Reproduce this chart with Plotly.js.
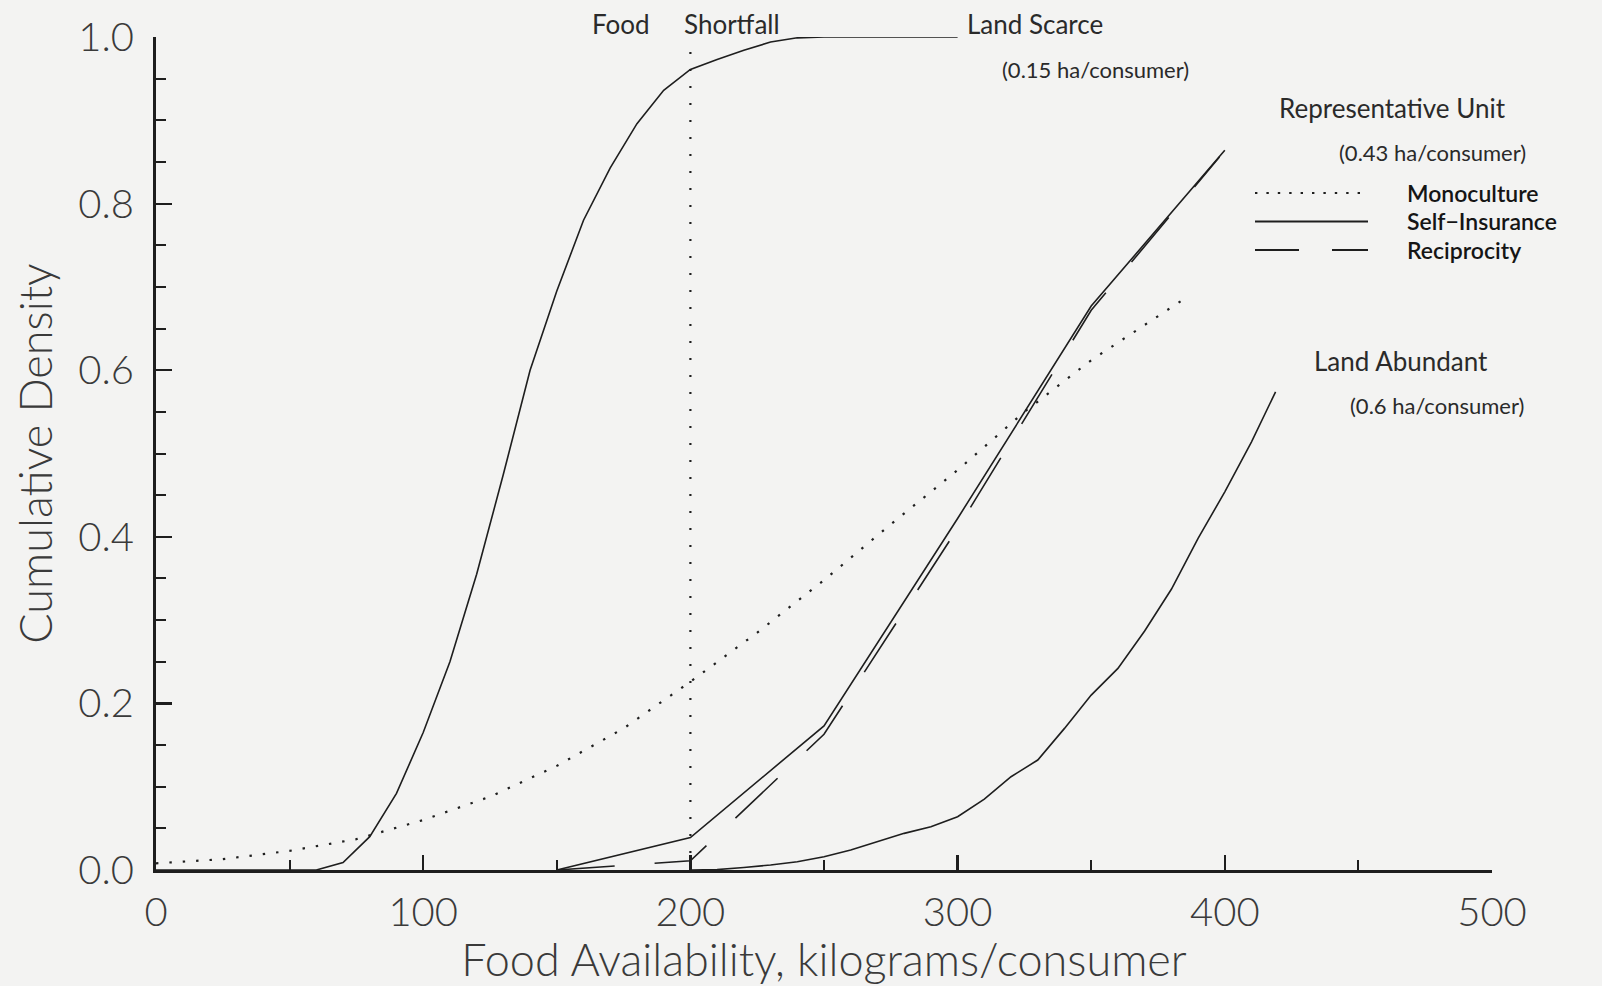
<!DOCTYPE html>
<html><head><meta charset="utf-8">
<script src="https://cdn.plot.ly/plotly-3.0.1.min.js"></script>
<style>html,body{margin:0;padding:0;background:#f3f3f2}</style>
</head><body><div id="chart" style="width:1602px;height:986px"></div>
<script>
// ---- Data ----
const scarceX = [0,60,70,80,90,100,110,120,130,140,150,160,170,180,190,200,210,220,230,240,250,300];
const scarceY = [0,0,0.009,0.04,0.092,0.165,0.25,0.355,0.475,0.6,0.695,0.78,0.843,0.896,0.936,0.961,0.973,0.984,0.994,0.999,1.0,1.0];

const monoX = [0,25,50,75,100,125,150,175,200,225,250,275,300,325,350,375,385];
const monoY = [0.008,0.013,0.023,0.037,0.06,0.088,0.125,0.17,0.226,0.285,0.348,0.415,0.48,0.55,0.612,0.665,0.686];

const selfX = [150,200,250,300,350,400];
const selfY = [0,0.039,0.173,0.422,0.677,0.864];

const recipX = [150,200,250,300,350,398];
const recipY = [0,0.011,0.163,0.41,0.672,0.856];

const abundX = [200,210,220,230,240,250,260,270,280,290,300,310,320,330,340,350,360,370,380,390,400,410,419];
const abundY = [0,0.0005,0.003,0.006,0.01,0.016,0.024,0.034,0.044,0.052,0.064,0.085,0.112,0.132,0.17,0.21,0.242,0.287,0.337,0.398,0.454,0.514,0.574];

const shortfallX = [200,200];
const shortfallY = [0,0.985];

const xTickVals = [0,100,200,300,400,500];
const yTickVals = [0,0.2,0.4,0.6,0.8,1.0];
const yTickText = ['0.0','0.2','0.4','0.6','0.8','1.0'];

const legendNames = ['Monoculture','Self\u2212Insurance','Reciprocity'];

// ---- Styles ----
const ink = '#1e1e1e';
const thin = 1.6;
const baseFont = 'Lato, "Open Sans", "DejaVu Sans", sans-serif';

const traces = [
  {x: shortfallX, y: shortfallY, mode:'lines', line:{color:ink, width:2.2, dash:'2px,15px'}, showlegend:false, hoverinfo:'skip'},
  {x: scarceX, y: scarceY, mode:'lines', name:'Land Scarce', line:{color:ink, width:thin}, showlegend:false},
  {x: monoX, y: monoY, mode:'lines', name:legendNames[0], line:{color:ink, width:2.2, dash:'2.4px,11px'}, showlegend:false},
  {x: selfX, y: selfY, mode:'lines', name:legendNames[1], line:{color:ink, width:thin}, showlegend:false},
  {x: recipX, y: recipY, mode:'lines', name:legendNames[2], line:{color:ink, width:thin, dash:'58px,40px'}, showlegend:false},
  {x: abundX, y: abundY, mode:'lines', name:'Land Abundant', line:{color:ink, width:thin}, showlegend:false}
];

// plot area: left 156, right 1492, top 37, bottom 870
const px = v => (v - 156) / 1336;   // pixel -> paper x
const py = v => (870 - v) / 833;    // pixel -> paper y

const labelFont = {family: baseFont, size: 26, color: '#2a2a2a', weight: 400};
const smallFont = {family: baseFont, size: 22, color: '#2a2a2a', weight: 400};
const legFont = {family: baseFont, size: 23, color: '#151515', weight: 600};

const rowY = [193, 221.5, 250];

const annotations = [
  {text:'Food', x: px(652), y: py(24), xref:'paper', yref:'paper', xanchor:'right', yanchor:'middle', showarrow:false, font: labelFont},
  {text:'Shortfall', x: px(682), y: py(24), xref:'paper', yref:'paper', xanchor:'left', yanchor:'middle', showarrow:false, font: labelFont},
  {text:'Land Scarce', x: px(965), y: py(24), xref:'paper', yref:'paper', xanchor:'left', yanchor:'middle', showarrow:false, font: labelFont},
  {text:'(0.15 ha/consumer)', x: px(1095), y: py(69), xref:'paper', yref:'paper', xanchor:'center', yanchor:'middle', showarrow:false, font: smallFont},
  {text:'Representative Unit', x: px(1392), y: py(108), xref:'paper', yref:'paper', xanchor:'center', yanchor:'middle', showarrow:false, font: labelFont},
  {text:'(0.43 ha/consumer)', x: px(1432), y: py(152), xref:'paper', yref:'paper', xanchor:'center', yanchor:'middle', showarrow:false, font: smallFont},
  {text:legendNames[0], x: px(1406), y: py(rowY[0]), xref:'paper', yref:'paper', xanchor:'left', yanchor:'middle', showarrow:false, font: legFont, borderpad:0},
  {text:legendNames[1], x: px(1406), y: py(rowY[1]), xref:'paper', yref:'paper', xanchor:'left', yanchor:'middle', showarrow:false, font: legFont, borderpad:0},
  {text:legendNames[2], x: px(1406), y: py(rowY[2]), xref:'paper', yref:'paper', xanchor:'left', yanchor:'middle', showarrow:false, font: legFont, borderpad:0},
  {text:'Land Abundant', x: px(1401), y: py(361), xref:'paper', yref:'paper', xanchor:'center', yanchor:'middle', showarrow:false, font: labelFont},
  {text:'(0.6 ha/consumer)', x: px(1437), y: py(405), xref:'paper', yref:'paper', xanchor:'center', yanchor:'middle', showarrow:false, font: smallFont}
];

const shapes = [
  {type:'line', xref:'paper', yref:'paper', x0:px(1255), x1:px(1362), y0:py(rowY[0]), y1:py(rowY[0]), line:{color:ink, width:2, dash:'2.4px,9px'}},
  {type:'line', xref:'paper', yref:'paper', x0:px(1255), x1:px(1368), y0:py(rowY[1]), y1:py(rowY[1]), line:{color:ink, width:2}},
  {type:'line', xref:'paper', yref:'paper', x0:px(1255), x1:px(1368), y0:py(rowY[2]), y1:py(rowY[2]), line:{color:ink, width:2, dash:'44px,33px'}}
];

const tickFont = {family: baseFont, size: 40, color: '#3a3a3a', weight: 300};
const titleFont = {family: baseFont, size: 45, color: '#3a3a3a', weight: 300};

const layout = {
  width: 1602, height: 986,
  margin: {l:156, r:110, t:37, b:116, pad:0},
  paper_bgcolor: '#f3f3f2',
  plot_bgcolor: '#f3f3f2',
  showlegend: false,
  xaxis: {
    range:[0,500], tickvals: xTickVals, ticks:'inside', ticklen:15, tickwidth:2.2, tickcolor: ink,
    showline:true, linewidth:3, linecolor: ink, showgrid:false, zeroline:false,
    tickfont: tickFont, ticklabelstandoff: 5,
    minor: {dtick:50, tick0:0, ticks:'inside', ticklen:10, tickwidth:2, tickcolor: ink, showgrid:false},
    title: {text:'Food Availability, kilograms/consumer', font: titleFont, standoff: 6},
    automargin:false, fixedrange:true
  },
  yaxis: {
    range:[0,1], tickvals: yTickVals, ticktext: yTickText, ticks:'inside', ticklen:16, tickwidth:2.2, tickcolor: ink,
    showline:true, linewidth:3, linecolor: ink, showgrid:false, zeroline:false,
    tickfont: tickFont, ticklabelstandoff: 11,
    minor: {dtick:0.05, tick0:0, ticks:'inside', ticklen:10, tickwidth:2, tickcolor: ink, showgrid:false},
    title: {text:'Cumulative Density', font: titleFont, standoff: 12},
    automargin:false, fixedrange:true
  },
  annotations: annotations,
  shapes: shapes
};

Plotly.newPlot('chart', traces, layout, {displayModeBar:false, staticPlot:true});
</script>
</body></html>
